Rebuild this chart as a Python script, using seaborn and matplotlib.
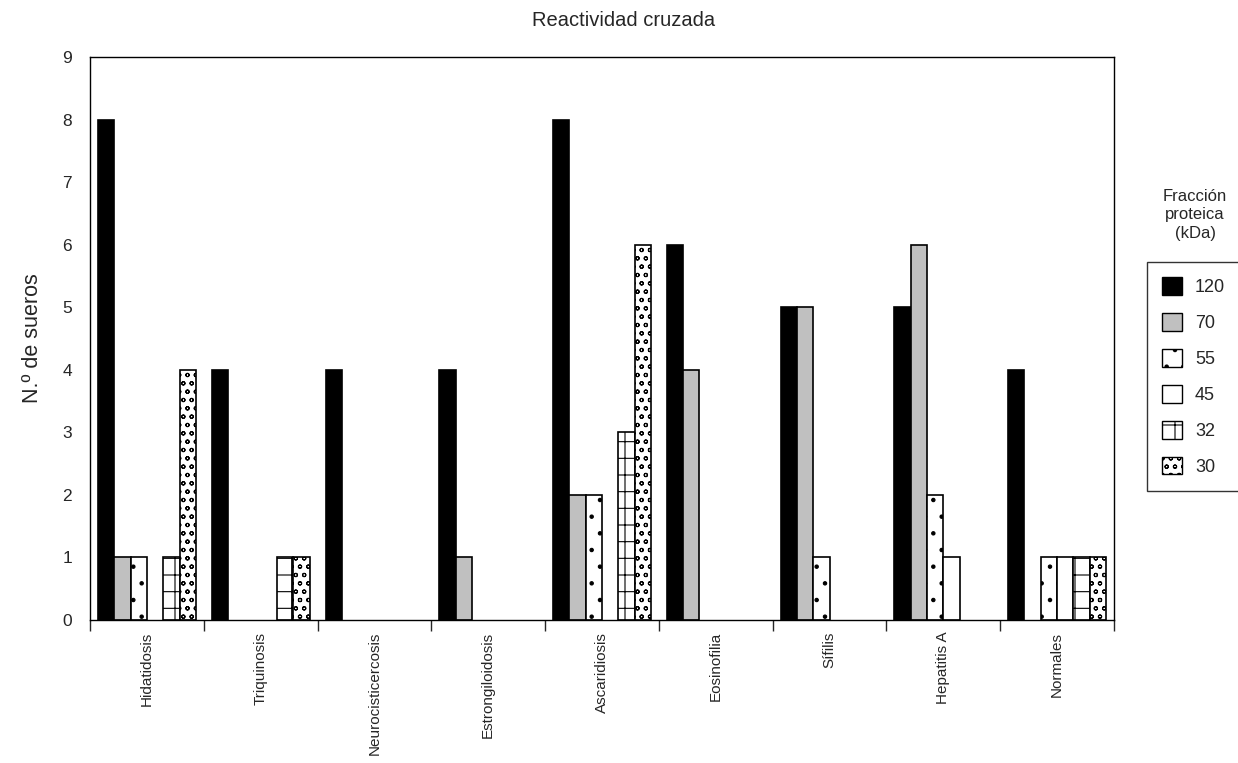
import matplotlib
matplotlib.use("Agg")
import matplotlib.pyplot as plt
import seaborn as sns
import pandas as pd
import numpy as np
from matplotlib.patches import Patch
from matplotlib.ticker import FixedLocator

categories = ["Hidatidosis", "Triquinosis", "Neurocisticercosis", "Estrongiloidosis",
              "Ascaridiosis", "Eosinofilia", "Sífilis", "Hepatitis A", "Normales"]
fractions = ["120", "70", "55", "45", "32", "30"]
v120 = [8, 4, 4, 4, 8, 6, 5, 5, 4]
v70 = [1, 0, 0, 1, 2, 4, 5, 6, 0]
v55 = [1, 0, 0, 0, 2, 0, 1, 2, 1]
v45 = [0, 0, 0, 0, 0, 0, 0, 1, 1]
v32 = [1, 1, 0, 0, 3, 0, 0, 0, 1]
v30 = [4, 1, 0, 0, 6, 0, 0, 0, 1]

series = [v120, v70, v55, v45, v32, v30]
rows = []
for f, vals in zip(fractions, series):
    for c, v in zip(categories, vals):
        rows.append({"cat": c, "frac": f, "val": v})
df = pd.DataFrame(rows)

sns.set_style("white")
plt.rcParams['font.family'] = ['Liberation Sans', 'DejaVu Sans']
plt.rcParams['hatch.linewidth'] = 0.8

fills = ["black", "#c0c0c0", "white", "white", "white", "white"]
hatches = [None, None, ".", None, "+", "oo"]

fig = plt.figure(figsize=(12.38, 7.63), dpi=100)
ax = fig.add_axes([90/1238, 1-620/763, (1114-90)/1238, (620-57)/763])

sns.barplot(data=df, x="cat", y="val", hue="frac", hue_order=fractions,
            palette=fills, edgecolor="black", linewidth=1.2, width=0.86,
            ax=ax, legend=False, saturation=1)

for cont, h in zip(ax.containers, hatches):
    for bar in cont:
        if h:
            bar.set_hatch(h)
        if bar.get_height() == 0:
            bar.set_visible(False)

ax.set_ylim(0, 9)
ax.set_xlim(-0.5, len(categories) - 0.5)
ax.set_yticks(range(0, 10))
ax.tick_params(axis="y", labelsize=12.5, length=0, left=False, pad=13)

ax.xaxis.set_major_locator(FixedLocator(np.arange(-0.5, len(categories), 1.0)))
ax.set_xticklabels([""] * (len(categories) + 1))
ax.set_xticks(np.arange(len(categories)), minor=True)
ax.set_xticklabels(categories, minor=True, rotation=90, fontsize=11)
ax.tick_params(axis="x", which="major", length=8, width=1, direction="out", bottom=True)
ax.tick_params(axis="x", which="minor", length=0, pad=8.5)

for s in ax.spines.values():
    s.set_color("black")
    s.set_linewidth(1)

ax.set_xlabel("")
ax.set_ylabel("N.º de sueros", fontsize=15.5, labelpad=14)
fig.text(624/1238, 1 - 20/763, "Reactividad cruzada",
         ha="center", va="center", fontsize=14.5)

handles = [Patch(facecolor=fc, edgecolor="black", hatch=h, linewidth=1)
           for fc, h in zip(fills, hatches)]
leg = fig.legend(handles, fractions, loc="upper left",
                 bbox_to_anchor=(1147/1238, 1 - 262/763), frameon=True,
                 fontsize=13, handlelength=1.1, handleheight=1.1,
                 labelspacing=0.95, borderpad=0.85, handletextpad=0.7,
                 borderaxespad=0, fancybox=False, edgecolor="black")
leg.get_frame().set_linewidth(1)
fig.text(1195/1238, 1 - 215/763, "Fracción\nproteica\n(kDa)", ha="center",
         va="center", fontsize=12, linespacing=1.3)

fig.savefig("out.png", dpi=100)
